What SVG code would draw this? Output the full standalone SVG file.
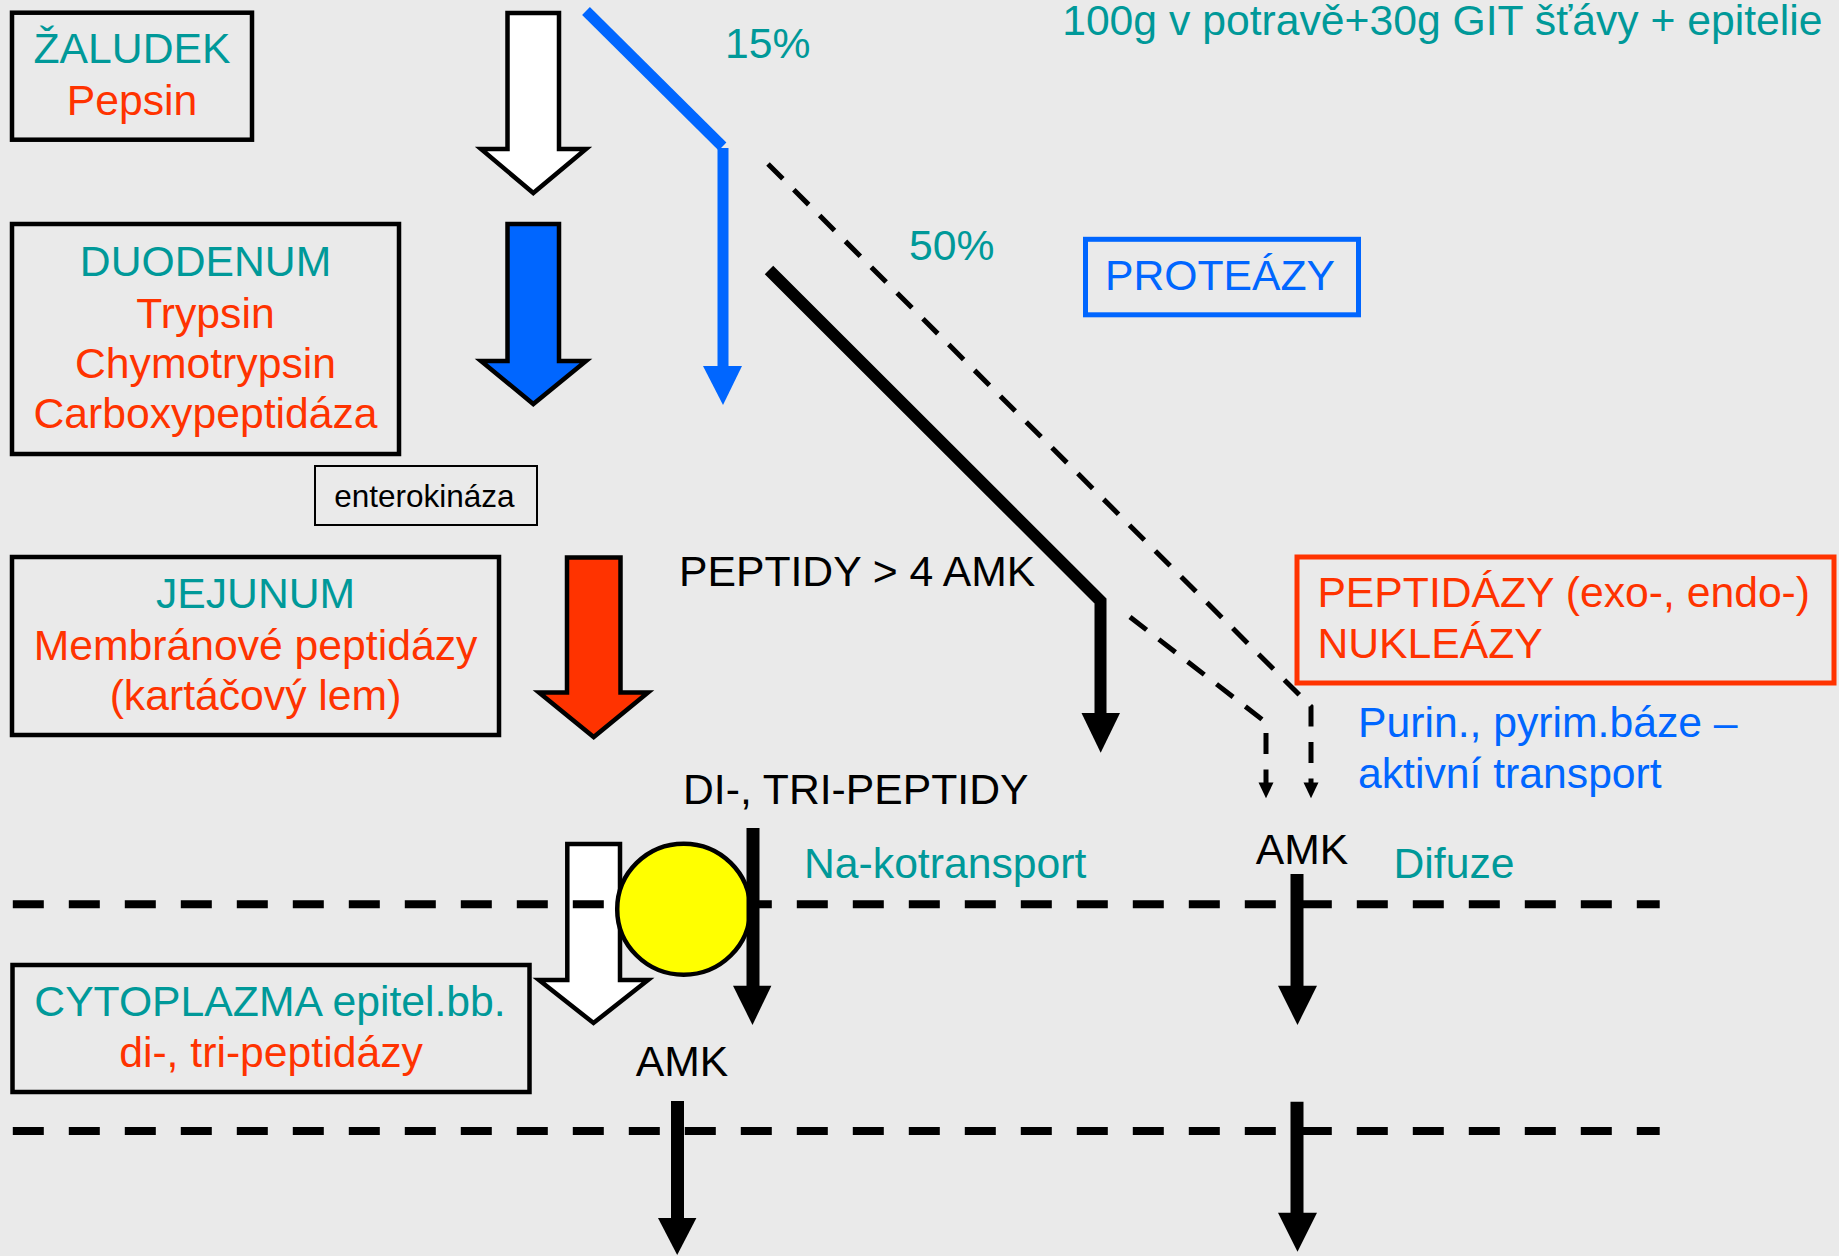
<svg xmlns="http://www.w3.org/2000/svg" width="1839" height="1256" viewBox="0 0 1839 1256">
<style>
.t{font-family:"Liberation Sans",Arial,sans-serif;font-size:42.7px}
.teal{fill:#009999}.red{fill:#FF3300}.blue{fill:#0066FF}.blk{fill:#000}
.box{fill:none;stroke:#000;stroke-width:4.5}
.barrow{stroke:#000;stroke-width:4.5;stroke-linejoin:miter}
.line{fill:none;stroke:#000;stroke-width:12}
.dash{fill:none;stroke:#000;stroke-width:5;stroke-dasharray:21 15.5}
.memb{fill:none;stroke:#000;stroke-width:8;stroke-dasharray:31 25}
</style>
<rect width="1839" height="1256" fill="#EAEAEA"/>

<g id="connectors">
  <!-- block arrows -->
  <polygon class="barrow" fill="#FFFFFF" points="507.5,13 559,13 559,149 586,149 533.3,193 481,149 507.5,149"/>
  <polygon class="barrow" fill="#0066FF" points="507.5,224 559,224 559,361 586,361 533.3,404 481,361 507.5,361"/>
  <polygon class="barrow" fill="#FF3300" points="567,557.5 620.5,557.5 620.5,692.5 648,692.5 593.7,737 539,692.5 567,692.5"/>
  <polygon class="barrow" fill="#FFFFFF" points="567.3,844 620,844 620,980 648,980 593.5,1023 539,980 567.3,980"/>
  <!-- blue 15% path -->
  <line x1="586" y1="11" x2="722.5" y2="146.5" stroke="#0066FF" stroke-width="11"/>
  <line x1="723" y1="148" x2="723" y2="368" stroke="#0066FF" stroke-width="11"/>
  <polygon fill="#0066FF" points="703,366 742,366 723,405"/>
  <!-- peptidy > 4 AMK path -->
  <polyline class="line" points="769,270 1100.5,601 1100.5,715" stroke-linejoin="miter"/>
  <polygon class="blk" points="1081.5,713 1120,713 1100.7,752.7"/>
  <!-- dashed paths -->
  <path class="dash" d="M768,164 L1311,706.5 L1311,785"/>
  <polygon class="blk" points="1303.5,782.5 1318.5,782.5 1311,798.3"/>
  <path class="dash" d="M1130,617 L1266,722.5 L1266,785"/>
  <polygon class="blk" points="1258.5,782.5 1273.5,782.5 1266,798.3"/>
</g>

<g id="membranes">
  <line class="memb" x1="12.8" y1="904.3" x2="1659.7" y2="904.3"/>
  <line class="memb" x1="12.8" y1="1131" x2="1659.7" y2="1131"/>
</g>

<g id="transporter">
  <ellipse cx="683.7" cy="909.2" rx="66.5" ry="65.5" fill="#FFFF00" stroke="#000" stroke-width="4.5"/>
</g>

<g id="transport-arrows">
  <line x1="753" y1="828" x2="753" y2="988" stroke="#000" stroke-width="13"/>
  <polygon class="blk" points="733,985.7 771.4,985.7 752.5,1025"/>
  <line x1="1297" y1="874" x2="1297" y2="988" stroke="#000" stroke-width="13"/>
  <polygon class="blk" points="1278,985.7 1317,985.7 1297.5,1025"/>
  <line x1="677.5" y1="1101" x2="677.5" y2="1220" stroke="#000" stroke-width="13"/>
  <polygon class="blk" points="658,1218 696.4,1218 677.2,1255"/>
  <line x1="1297" y1="1101.7" x2="1297" y2="1215" stroke="#000" stroke-width="13"/>
  <polygon class="blk" points="1278,1212.7 1317,1212.7 1297.5,1251.7"/>
</g>

<g id="zaludek">
  <rect class="box" x="12" y="12.7" width="240" height="127"/>
  <text class="t teal" x="132" y="63.3" text-anchor="middle">ŽALUDEK</text>
  <text class="t red" x="132" y="115" text-anchor="middle">Pepsin</text>
</g>

<g id="duodenum">
  <rect class="box" x="12" y="224" width="387" height="230"/>
  <text class="t teal" x="205.5" y="276" text-anchor="middle">DUODENUM</text>
  <text class="t red" x="205.5" y="327.7" text-anchor="middle">Trypsin</text>
  <text class="t red" x="205.5" y="377.7" text-anchor="middle">Chymotrypsin</text>
  <text class="t red" x="205.5" y="428.3" text-anchor="middle">Carboxypeptidáza</text>
</g>

<g id="enterokinaza">
  <rect x="315" y="466" width="222" height="59" fill="none" stroke="#000" stroke-width="2"/>
  <text class="t blk" x="424.4" y="506.7" text-anchor="middle" style="font-size:31.5px">enterokináza</text>
</g>

<g id="jejunum">
  <rect class="box" x="12" y="557" width="487" height="178"/>
  <text class="t teal" x="255.5" y="608.3" text-anchor="middle">JEJUNUM</text>
  <text class="t red" x="255.5" y="660" text-anchor="middle">Membránové peptidázy</text>
  <text class="t red" x="255.5" y="710" text-anchor="middle">(kartáčový lem)</text>
</g>

<g id="cytoplazma">
  <rect class="box" x="12.5" y="965" width="517" height="127"/>
  <text class="t teal" x="270" y="1016" text-anchor="middle">CYTOPLAZMA epitel.bb.</text>
  <text class="t red" x="271" y="1067.3" text-anchor="middle">di-, tri-peptidázy</text>
</g>

<g id="proteazy">
  <rect x="1085.5" y="239.3" width="273" height="75.5" fill="none" stroke="#0066FF" stroke-width="5"/>
  <text class="t blue" x="1105" y="290">PROTEÁZY</text>
</g>

<g id="peptidazy">
  <rect x="1297" y="557" width="537" height="126" fill="none" stroke="#FF3300" stroke-width="5"/>
  <text class="t red" x="1317.4" y="607.3">PEPTIDÁZY (exo-, endo-)</text>
  <text class="t red" x="1317.4" y="658.3">NUKLEÁZY</text>
</g>

<g id="labels">
  <text class="t teal" x="1822.5" y="35" text-anchor="end">100g v potravě+30g GIT šťávy + epitelie</text>
  <text class="t teal" x="725" y="58.3">15%</text>
  <text class="t teal" x="909" y="260">50%</text>
  <text class="t blk" x="679" y="586">PEPTIDY &gt; 4 AMK</text>
  <text class="t blk" x="683" y="804">DI-, TRI-PEPTIDY</text>
  <text class="t teal" x="804" y="878.3">Na-kotransport</text>
  <text class="t blk" x="1302" y="863.8" text-anchor="middle">AMK</text>
  <text class="t teal" x="1393.5" y="878.3">Difuze</text>
  <text class="t blue" x="1358" y="736.7">Purin., pyrim.báze –</text>
  <text class="t blue" x="1358" y="788.3">aktivní transport</text>
  <text class="t blk" x="682" y="1076" text-anchor="middle">AMK</text>
</g>
</svg>
